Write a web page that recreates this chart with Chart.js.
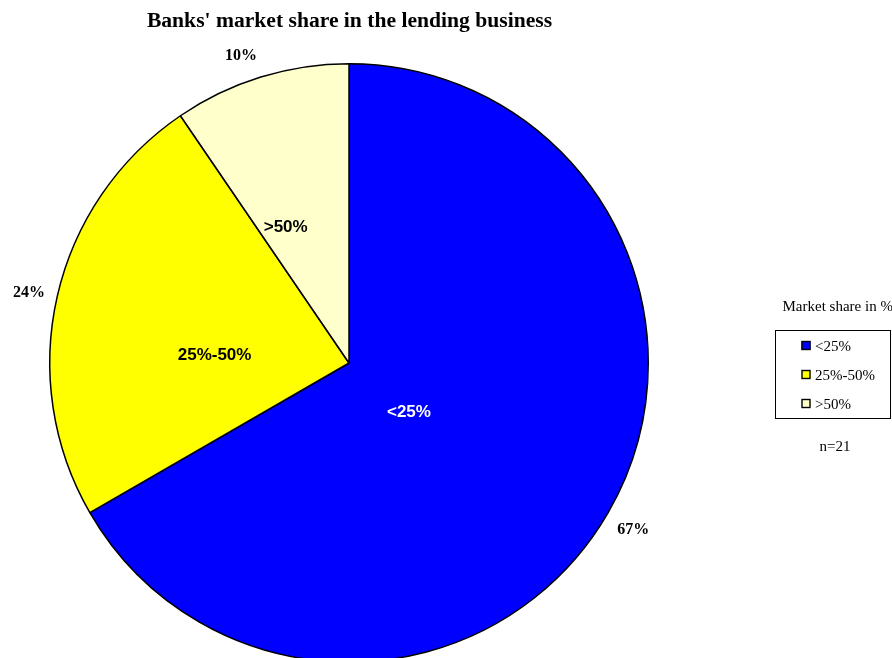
<!DOCTYPE html>
<html>
<head>
<meta charset="utf-8">
<title>Banks' market share in the lending business</title>
<script src="https://cdn.jsdelivr.net/npm/chart.js@4.4.1/dist/chart.umd.min.js"></script>
<style>
  html, body { margin: 0; padding: 0; background: #ffffff; overflow: hidden; }
  #wrap { position: relative; width: 892px; height: 664px; }
</style>
</head>
<body>
<div id="wrap"><canvas id="chart"></canvas></div>
<script>
// Survey answers: number of banks per market-share band (n = 21)
const categories = ['<25%', '25%-50%', '>50%'];
const bankCounts = [14, 5, 2];
const sliceColors = ['#0000ff', '#ffff00', '#ffffcc'];
const innerTextColors = ['#ffffff', '#000000', '#000000'];

const chartTitle = "Banks' market share in the lending business";
const legendTitle = 'Market share in %';
const sampleNote = 'n=21';

// Where each category name sits inside its slice
const innerAngleFrac = [0.54, 0.39, 0.27];
const innerRadiusFrac = [0.26, 0.45, 0.50];
// Where each percentage sits outside the rim
const outerAngleFrac = [0.50, 0.50, 0.44];
const outerRadiusFrac = 1.097;

const SERIF = '"Liberation Serif", "Times New Roman", Times, serif';
const SANS = '"Liberation Sans", Arial, Helvetica, sans-serif';

const total = bankCounts.reduce((a, b) => a + b, 0);

const labelsPlugin = {
  id: 'pieText',
  afterDatasetsDraw(chart) {
    const ctx = chart.ctx;
    const meta = chart.getDatasetMeta(0);
    ctx.save();
    ctx.textAlign = 'center';
    ctx.textBaseline = 'middle';

    meta.data.forEach((arc, i) => {
      const p = arc.getProps(['x', 'y', 'startAngle', 'endAngle', 'outerRadius'], true);
      const span = p.endAngle - p.startAngle;

      // percentage outside the rim
      const ao = p.startAngle + span * outerAngleFrac[i];
      const pct = Math.round(bankCounts[i] / total * 100) + '%';
      ctx.font = 'bold 16px ' + SERIF;
      ctx.fillStyle = '#000000';
      ctx.fillText(pct,
        p.x + Math.cos(ao) * p.outerRadius * outerRadiusFrac,
        p.y + Math.sin(ao) * p.outerRadius * outerRadiusFrac + 2.5);

      // category name inside the slice
      const a = p.startAngle + span * innerAngleFrac[i];
      const r = p.outerRadius * innerRadiusFrac[i];
      ctx.font = 'bold 17px ' + SANS;
      ctx.fillStyle = innerTextColors[i];
      ctx.fillText(categories[i], p.x + Math.cos(a) * r, p.y + Math.sin(a) * r);
    });

    // chart title
    ctx.font = 'bold 21.6px ' + SERIF;
    ctx.fillStyle = '#000000';
    ctx.fillText(chartTitle, 349.5, 21);

    // legend
    ctx.font = '15px ' + SERIF;
    ctx.textAlign = 'left';
    ctx.fillText(legendTitle, 782.5, 307.5);

    ctx.lineWidth = 1;
    ctx.strokeStyle = '#000000';
    ctx.strokeRect(775.5, 330.5, 115, 88);

    const ds = chart.data.datasets[0];
    chart.data.labels.forEach((lab, i) => {
      const cy = 345.5 + i * 29;
      ctx.fillStyle = ds.backgroundColor[i];
      ctx.fillRect(801.5, cy - 4.5, 9, 9);
      ctx.lineWidth = 1.4;
      ctx.strokeRect(802, cy - 4, 8, 8);
      ctx.fillStyle = '#000000';
      ctx.fillText(lab, 815, cy + 1.5);
    });

    ctx.textAlign = 'center';
    ctx.fillText(sampleNote, 835, 447.5);
    ctx.restore();
  }
};

new Chart(document.getElementById('chart'), {
  type: 'pie',
  data: {
    labels: categories,
    datasets: [{
      data: bankCounts,
      backgroundColor: sliceColors,
      borderColor: '#000000',
      borderWidth: 1.5
    }]
  },
  options: {
    responsive: true,
    maintainAspectRatio: false,
    animation: false,
    layout: { padding: { left: 49, top: 62, right: 243, bottom: 0 } },
    plugins: {
      legend: { display: false },
      title: { display: false },
      tooltip: { enabled: false }
    }
  },
  plugins: [labelsPlugin]
});
</script>
</body>
</html>
